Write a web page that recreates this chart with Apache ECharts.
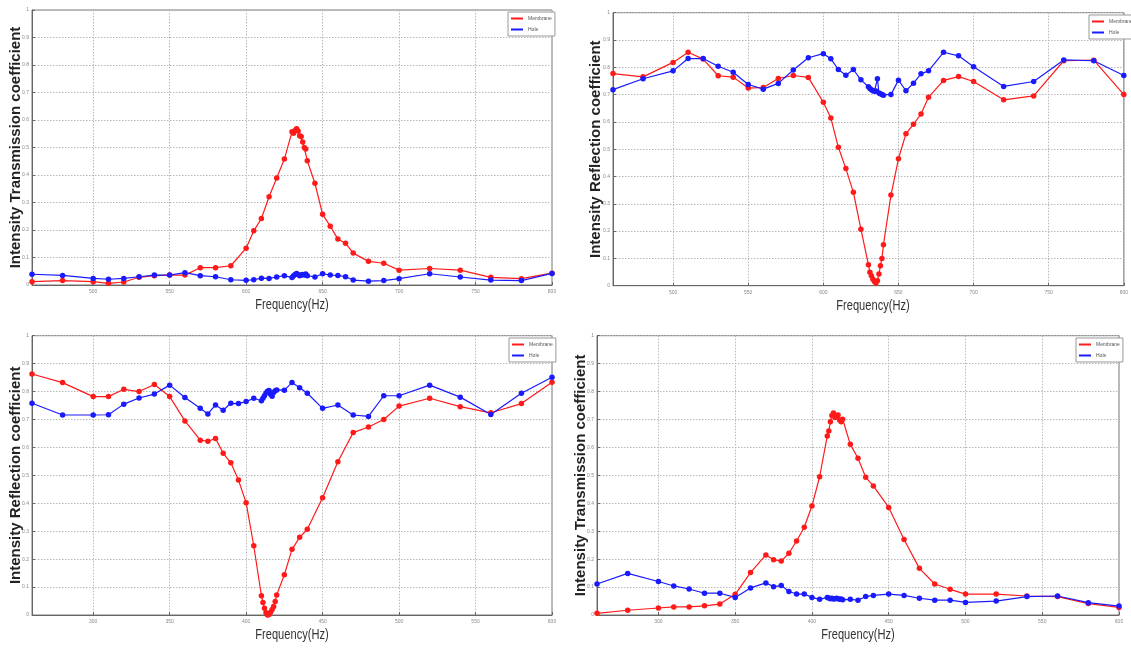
<!DOCTYPE html>
<html>
<head>
<meta charset="utf-8">
<script src="https://cdn.jsdelivr.net/npm/echarts@6/dist/echarts.min.js"></script>
<style>
html,body{margin:0;padding:0;background:#fff;}
#chart{width:1131px;height:648px;}
</style>
</head>
<body>
<div id="chart"></div>
<script>
// ---------- data ----------
const freqTop = [460,480,500,510,520,530,540,550,560,570,580,590,600,605,610,615,620,625,630,631,632,633,634,635,636,637,638,639,640,645,650,655,660,665,670,680,690,700,720,740,760,780,800];
const tlMembrane = [0.012,0.016,0.012,0.006,0.011,0.028,0.034,0.036,0.036,0.063,
  0.063,0.07,0.134,0.197,0.242,0.321,0.389,0.458,0.557,0.552,
  0.562,0.568,0.56,0.543,0.54,0.52,0.5,0.495,0.452,0.37,
  0.257,0.214,0.167,0.152,0.116,0.086,0.079,0.054,0.06,0.054,
  0.028,0.023,0.043];
const tlHole = [0.039,0.035,0.024,0.021,0.024,0.03,0.036,0.036,0.045,0.034,
  0.03,0.019,0.017,0.019,0.025,0.024,0.029,0.034,0.027,0.034,
  0.038,0.042,0.038,0.034,0.036,0.038,0.036,0.04,0.034,0.029,
  0.041,0.036,0.035,0.03,0.018,0.014,0.016,0.023,0.041,0.029,
  0.018,0.016,0.042];
const trMembrane = [0.777,0.765,0.818,0.855,0.83,0.769,0.764,0.724,0.726,0.759,
  0.77,0.763,0.672,0.614,0.507,0.429,0.342,0.207,0.077,0.049,
  0.036,0.024,0.015,0.01,0.018,0.043,0.073,0.1,0.15,0.332,
  0.465,0.557,0.591,0.629,0.69,0.752,0.766,0.748,0.681,0.695,
  0.824,0.826,0.70];
const trHole = [0.718,0.758,0.787,0.832,0.832,0.804,0.782,0.737,0.72,0.741,
  0.79,0.835,0.85,0.831,0.792,0.771,0.792,0.754,0.729,0.722,
  0.718,0.714,0.712,0.713,0.758,0.706,0.703,0.7,0.698,0.7,
  0.753,0.714,0.742,0.776,0.787,0.855,0.842,0.802,0.73,0.748,
  0.827,0.824,0.77];

const freqBottom = [260,280,300,310,320,330,340,350,360,370,375,380,385,390,395,400,405,410,411,412,413,414,415,416,417,418,419,420,425,430,435,440,450,460,470,480,490,500,520,540,560,580,600];
const blMembrane = [0.863,0.832,0.782,0.782,0.808,0.8,0.825,0.782,0.695,0.626,
  0.622,0.632,0.579,0.545,0.483,0.402,0.248,0.069,0.045,0.024,
  0.008,0.0,0.002,0.01,0.02,0.03,0.048,0.072,0.144,0.235,
  0.278,0.307,0.42,0.549,0.653,0.673,0.7,0.748,0.776,0.746,
  0.724,0.757,0.833];
const blHole = [0.758,0.716,0.716,0.717,0.755,0.777,0.791,0.823,0.779,0.74,
  0.72,0.752,0.733,0.758,0.757,0.764,0.776,0.767,0.776,0.785,
  0.795,0.801,0.804,0.79,0.783,0.797,0.803,0.806,0.805,0.832,
  0.814,0.794,0.74,0.752,0.716,0.711,0.785,0.785,0.823,0.78,
  0.718,0.794,0.851];
const brMembrane = [0.006,0.017,0.025,0.029,0.029,0.033,0.039,0.074,0.152,0.215,
  0.198,0.193,0.221,0.265,0.314,0.39,0.495,0.641,0.659,0.692,
  0.714,0.723,0.707,0.714,0.716,0.698,0.692,0.701,0.611,0.561,
  0.493,0.462,0.385,0.27,0.167,0.111,0.092,0.075,0.075,0.068,
  0.066,0.041,0.027];
const brHole = [0.111,0.149,0.12,0.104,0.093,0.078,0.078,0.063,0.097,0.115,
  0.101,0.106,0.084,0.075,0.075,0.063,0.056,0.063,0.061,0.058,
  0.06,0.057,0.058,0.06,0.058,0.056,0.057,0.055,0.056,0.053,
  0.066,0.07,0.075,0.07,0.06,0.053,0.053,0.045,0.05,0.066,
  0.068,0.044,0.032];

const xTicksTop = [500,550,600,650,700,750,800];
const xTicksBottom = [300,350,400,450,500,550,600];
const seriesNames = ['Membrane','Hole'];
const xTitle = 'Frequency(Hz)';
const yTitleT = 'Intensity Transmission coefficient';
const yTitleR = 'Intensity Reflection coefficient';

// ---------- build ----------
const panels = [
  {grid:{left:32, top:10, width:520, height:275}, xmin:460, xmax:800, ticks:xTicksTop, yname:yTitleT, m:tlMembrane, h:tlHole, f:freqTop, legendLeft:508, legendTop:12, gap:9},
  {grid:{left:613, top:12.7, width:520, height:273}, xmin:460, xmax:800, ticks:xTicksTop, yname:yTitleR, m:trMembrane, h:trHole, f:freqTop, legendLeft:1089, legendTop:15, gap:10},
  {grid:{left:32, top:335.7, width:520, height:279.3}, xmin:260, xmax:600, ticks:xTicksBottom, yname:yTitleR, m:blMembrane, h:blHole, f:freqBottom, legendLeft:509, legendTop:338, gap:9},
  {grid:{left:597, top:335.7, width:522, height:279.3}, xmin:260, xmax:600, ticks:xTicksBottom, yname:yTitleT, m:brMembrane, h:brHole, f:freqBottom, legendLeft:1076, legendTop:338, gap:9}
];

const grids = [], xAxes = [], yAxes = [], series = [], legends = [], graphics = [];
const gridLine = {show:true, lineStyle:{color:'#b8b8b8', width:1, type:[1.5,1.5]}};
panels.forEach((p, i) => {
  grids.push(Object.assign({show:true, borderColor:'#777', borderWidth:1, backgroundColor:'#fff', containLabel:false}, p.grid));
  xAxes.push({
    type:'value', gridIndex:i, min:p.xmin, max:p.xmax,
    axisLine:{show:true, onZero:false, lineStyle:{color:'#666', width:1}},
    axisTick:{show:true, inside:true, length:3, customValues:p.ticks, lineStyle:{color:'#666'}},
    axisLabel:{customValues:p.ticks, fontSize:5, color:'#888', margin:4, fontFamily:'Liberation Sans'},
    splitLine:gridLine
  });
  yAxes.push({
    type:'value', gridIndex:i, min:0, max:1, interval:0.1,
    axisLine:{show:true, lineStyle:{color:'#666', width:1}},
    axisTick:{show:true, inside:true, length:3, lineStyle:{color:'#666'}},
    axisLabel:{fontSize:5, color:'#888', margin:3, fontFamily:'Liberation Sans'},
    splitLine:gridLine,
    name:p.yname, nameLocation:'middle', nameGap:p.gap, nameMoveOverlap:false,
    nameTextStyle:{fontFamily:'Liberation Sans', fontWeight:'bold', fontSize:15, color:'#222'}
  });
  const mk = (name, vals, color) => ({
    name, type:'line', xAxisIndex:i, yAxisIndex:i,
    data: p.f.map((x, k) => [x, vals[k]]),
    symbol:'circle', symbolSize:5.5, showSymbol:true,
    lineStyle:{color, width:1.2}, itemStyle:{color},
    animation:false, clip:true
  });
  series.push(mk(seriesNames[0], p.m, '#ff1a1a'));
  series.push(mk(seriesNames[1], p.h, '#1a1aff'));
  legends.push({
    data:seriesNames, orient:'vertical', left:p.legendLeft, top:p.legendTop,
    icon:'rect', itemWidth:12, itemHeight:2, itemGap:6,
    padding:[4,3,4,3], borderColor:'#999', borderWidth:1, backgroundColor:'#fff',
    textStyle:{fontSize:5, color:'#555', fontFamily:'Liberation Sans'},
    selectedMode:false
  });
  // x-axis title (condensed like the original), centred under each plot
  const g = p.grid;
  graphics.push({
    type:'text', x: g.left + g.width / 2, y: g.top + g.height + 20,
    scaleX: 0.74, silent:true,
    style:{text:xTitle, font:'15px "Liberation Sans"', fill:'#333', align:'center', verticalAlign:'middle'}
  });
});

const chart = echarts.init(document.getElementById('chart'), null, {renderer:'canvas'});
chart.setOption({
  backgroundColor:'#fff',
  animation:false,
  grid:grids, xAxis:xAxes, yAxis:yAxes, series:series, legend:legends, graphic:graphics
});
</script>
</body>
</html>
